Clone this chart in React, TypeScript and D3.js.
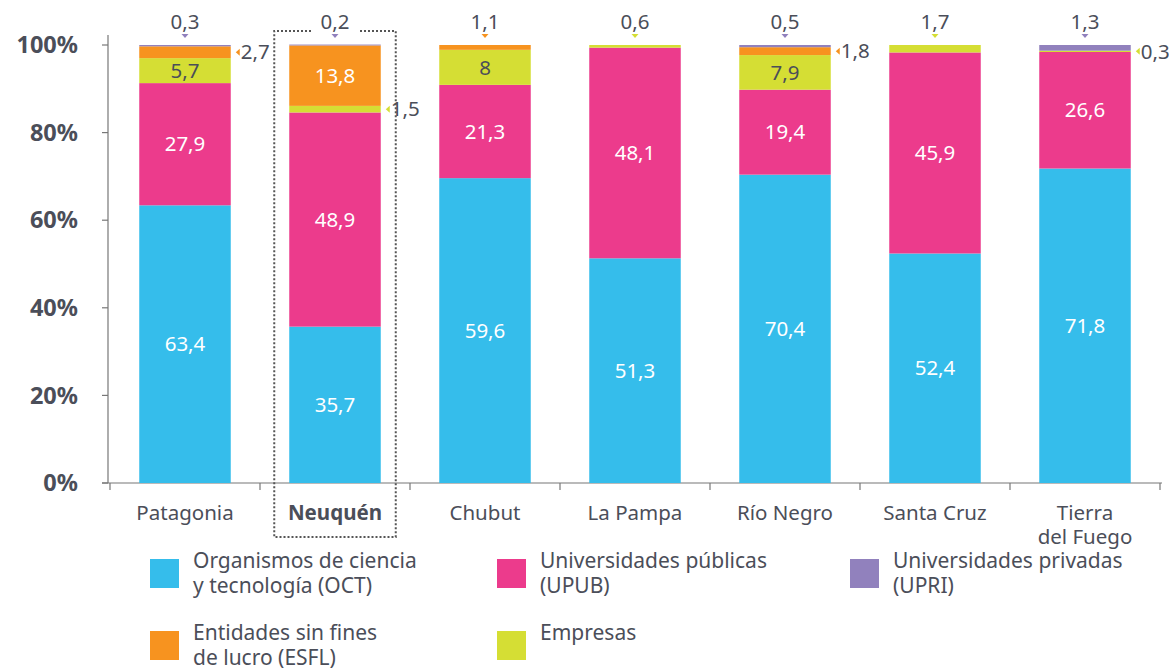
import React, { useEffect, useRef } from 'react';
import * as d3 from 'd3';

// categories (provinces)
const regions = ['Patagonia', 'Neuquén', 'Chubut', 'La Pampa', 'Río Negro', 'Santa Cruz', 'Tierra del Fuego'];
const highlighted = 'Neuquén';

// series values (% of researchers by sector)
const oct = [63.4, 35.7, 69.6, 51.3, 70.4, 52.4, 71.8];
const upub = [27.9, 48.9, 21.3, 48.1, 19.4, 45.9, 26.6];
const empresas = [5.7, 1.5, 8, 0.6, 7.9, 1.7, 0.3];
const esfl = [2.7, 13.8, 1.1, 0, 1.8, 0, 0];
const upri = [0.3, 0.2, 0, 0, 0.5, 0, 1.3];

// the source figure labels the Chubut OCT segment as 59,6 although it is drawn at ~69,6
const labelFix: Record<string, string> = { 'Chubut|oct': '59,6' };

const yTicks = [0, 20, 40, 60, 80, 100];

const seriesKeys = ['oct', 'upub', 'empresas', 'esfl', 'upri'];
const colors: Record<string, string> = {
  oct: '#35bdeb',
  upub: '#ec3b8c',
  empresas: '#d5de34',
  esfl: '#f7931f',
  upri: '#9181bd',
};

const legendItems = [
  { key: 'oct', lines: ['Organismos de ciencia', 'y tecnología (OCT)'] },
  { key: 'upub', lines: ['Universidades públicas', '(UPUB)'] },
  { key: 'upri', lines: ['Universidades privadas', '(UPRI)'] },
  { key: 'esfl', lines: ['Entidades sin fines', 'de lucro (ESFL)'] },
  { key: 'empresas', lines: ['Empresas'] },
];

const font = '"Noto Sans", "Open Sans", sans-serif';
const textColor = '#4b4e59';

const App: React.FC = () => {
  const svgRef = useRef<SVGSVGElement>(null);

  useEffect(() => {
    const svg = d3.select(svgRef.current);
    svg.selectAll('*').remove();

    const data = regions.map((r, i) => ({
      region: r,
      oct: oct[i],
      upub: upub[i],
      empresas: empresas[i],
      esfl: esfl[i],
      upri: upri[i],
    }));

    const x = d3.scaleBand()
      .domain(regions)
      .range([110, 1160])
      .paddingInner(0.39)
      .paddingOuter(0.195);

    const y = d3.scaleLinear().domain([0, 100]).range([483, 45]);

    const stacked = d3.stack<any>().keys(seriesKeys)(data);

    const g = svg.append('g').style('font-family', font);

    // axes
    g.append('line')
      .attr('x1', 108).attr('x2', 108)
      .attr('y1', 35).attr('y2', 483)
      .attr('stroke', '#777').attr('stroke-width', 1.2);
    g.append('line')
      .attr('x1', 102).attr('x2', 1162)
      .attr('y1', 483).attr('y2', 483)
      .attr('stroke', '#777').attr('stroke-width', 1.2);

    yTicks.forEach(t => {
      g.append('line')
        .attr('x1', 102).attr('x2', 108)
        .attr('y1', y(t)).attr('y2', y(t))
        .attr('stroke', '#777').attr('stroke-width', 1.2);
      g.append('text')
        .attr('x', 78).attr('y', y(t))
        .attr('dy', '0.35em')
        .attr('text-anchor', 'end')
        .style('font-size', '23.5px')
        .style('font-weight', 700)
        .attr('fill', textColor)
        .text(`${t}%`);
    });

    // boundary ticks on x axis
    const step = x.step();
    d3.range(regions.length + 1).forEach(i => {
      const bx = 110 + i * step;
      g.append('line')
        .attr('x1', bx).attr('x2', bx)
        .attr('y1', 483).attr('y2', 490)
        .attr('stroke', '#777').attr('stroke-width', 1.2);
    });

    // bars
    stacked.forEach(layer => {
      g.append('g')
        .selectAll('rect')
        .data(layer)
        .enter()
        .append('rect')
        .attr('x', (d: any) => x(d.data.region) as number)
        .attr('y', (d: any) => y(d[1]))
        .attr('width', x.bandwidth())
        .attr('height', (d: any) => y(d[0]) - y(d[1]))
        .attr('fill', colors[layer.key]);
    });

    const fmt = (v: number) => String(v).replace('.', ',');

    // value labels
    data.forEach((d: any, i) => {
      const x0 = x(d.region) as number;
      const cx = x0 + x.bandwidth() / 2;
      const right = x0 + x.bandwidth();
      const nonZero = seriesKeys.filter(k => d[k] > 0);
      const topKey = nonZero[nonZero.length - 1];

      seriesKeys.forEach((k, ki) => {
        const v = d[k];
        if (v <= 0) return;
        const seg = stacked[ki][i];
        const mid = (y(seg[0]) + y(seg[1])) / 2;
        const label = labelFix[`${d.region}|${k}`] ?? fmt(v);

        if (v >= 3) {
          g.append('text')
            .attr('x', cx).attr('y', mid)
            .attr('dy', '0.35em')
            .attr('text-anchor', 'middle')
            .style('font-size', '20.5px')
            .attr('fill', k === 'empresas' ? textColor : '#fff')
            .text(label);
        } else if (k === topKey) {
          g.append('path')
            .attr('d', `M${cx - 3.5},34 L${cx + 3.5},34 L${cx},38 Z`)
            .attr('fill', colors[k]);
          g.append('text')
            .attr('x', cx).attr('y', 22)
            .attr('dy', '0.35em')
            .attr('text-anchor', 'middle')
            .style('font-size', '20.5px')
            .attr('fill', textColor)
            .text(label);
        } else {
          g.append('path')
            .attr('d', `M${right + 5},${mid} L${right + 9},${mid - 3.5} L${right + 9},${mid + 3.5} Z`)
            .attr('fill', colors[k]);
          g.append('text')
            .attr('x', right + 10).attr('y', mid)
            .attr('dy', '0.35em')
            .style('font-size', '20.5px')
            .attr('fill', textColor)
            .text(label);
        }
      });
    });

    // x labels
    regions.forEach(r => {
      const cx = (x(r) as number) + x.bandwidth() / 2;
      const lines = r === 'Tierra del Fuego' ? ['Tierra', 'del Fuego'] : [r];
      const t = g.append('text')
        .attr('text-anchor', 'middle')
        .style('font-size', '20.5px')
        .style('font-weight', r === highlighted ? 700 : 400)
        .attr('fill', textColor);
      lines.forEach((l, li) => {
        t.append('tspan').attr('x', cx).attr('y', 513 + li * 24).attr('dy', '0.35em').text(l);
      });
    });

    // dotted highlight box around Neuquén
    const hx = x(highlighted) as number;
    const bx0 = hx - 15;
    const bx1 = hx + x.bandwidth() + 15;
    const by0 = 31;
    const by1 = 537;
    const hcx = hx + x.bandwidth() / 2;
    const box = d3.path();
    box.moveTo(hcx - 24, by0);
    box.lineTo(bx0, by0);
    box.lineTo(bx0, by1);
    box.lineTo(bx1, by1);
    box.lineTo(bx1, by0);
    box.lineTo(hcx + 23, by0);
    g.append('path')
      .attr('d', box.toString())
      .attr('fill', 'none')
      .attr('stroke', '#555')
      .attr('stroke-width', 2)
      .attr('stroke-dasharray', '2,2');

    // legend
    const legendPos = [
      { x: 150, y: 559 },
      { x: 497, y: 559 },
      { x: 850, y: 559 },
      { x: 150, y: 631 },
      { x: 497, y: 631 },
    ];
    legendItems.forEach((item, i) => {
      const p = legendPos[i];
      const lg = g.append('g').attr('transform', `translate(${p.x},${p.y})`);
      lg.append('rect')
        .attr('width', 29).attr('height', 29)
        .attr('fill', colors[item.key]);
      const t = lg.append('text')
        .style('font-size', '21px')
        .attr('fill', textColor);
      item.lines.forEach((l, li) => {
        t.append('tspan').attr('x', 43).attr('y', 2 + li * 25).attr('dy', '0.35em').text(l);
      });
    });
  }, []);

  return (
    <svg
      ref={svgRef}
      width={1169}
      height={668}
      style={{ position: 'absolute', left: 0, top: 0, background: '#fff' }}
    />
  );
};

export default App;
